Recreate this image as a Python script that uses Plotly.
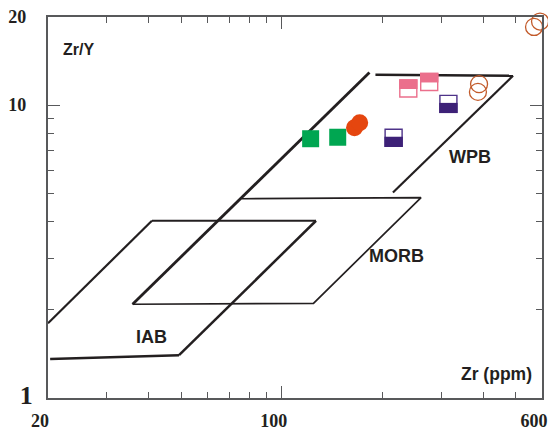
import numpy as np
import plotly.graph_objects as go

# ---- Data ----
green_x = [122, 147]
green_y = [7.68, 7.77]
orange_x = [165, 171]
orange_y = [8.37, 8.71]
purple_x = [216, 315]
purple_y = [7.74, 10.1]
pink_x = [239, 276]
pink_y = [11.4, 12.0]
open_x = [389, 386, 592, 568]
open_y = [11.8, 11.1, 19.3, 18.5]

# field boundaries
iab_x = [20, 40.9, 126.6, 49.3, 20.3]
iab_y = [1.80, 4.03, 4.03, 1.40, 1.36]
morb_x = [75.9, 260.9, 124.4, 35.8]
morb_y = [4.79, 4.83, 2.106, 2.09]
long_x = [35.8, 182.9]
long_y = [2.09, 12.93]
wpb_x = [190.6, 491.5, 215.0]
wpb_y = [12.70, 12.60, 5.03]

x_ticks = [20, 100, 600]
x_ticktext = ["20", "100", "600"]
x_minor = [30, 40, 50, 60, 70, 80, 90, 200, 300, 400, 500]
y_ticks = [1, 10, 20]
y_ticktext = ['<span style="font-size:26px">1</span>',
              '10<span style="font-size:26px">&nbsp;</span>',
              '20<span style="font-size:26px">&nbsp;</span>']
y_minor = [2, 3, 4, 5, 6, 7, 8, 9]

INK = "#231F20"
AX = "#58595B"
GREEN = "#00A651"
ORANGE = "#E5460F"
PURPLE = "#3D2177"
PURPLE_EDGE = "#4E3389"
PINK = "#EB6F8C"
BROWN = "#C25A2A"

fig = go.Figure()

def seg(xs, ys, w):
    fig.add_trace(go.Scatter(x=xs, y=ys, mode="lines",
                             line=dict(color=INK, width=w), showlegend=False,
                             hoverinfo="skip"))

seg(iab_x[:2], iab_y[:2], 2.2)
seg(iab_x[1:3], iab_y[1:3], 2.0)
seg(iab_x[2:4], iab_y[2:4], 2.5)
seg(iab_x[3:5], iab_y[3:5], 2.5)
seg(morb_x, morb_y, 1.7)
seg(long_x, long_y, 2.8)
seg(wpb_x[:2], wpb_y[:2], 2.6)
seg(wpb_x[1:], wpb_y[1:], 2.2)

fig.add_trace(go.Scatter(x=green_x, y=green_y, mode="markers",
                         marker=dict(symbol="square", size=17, color=GREEN,
                                     line=dict(width=0)), showlegend=False))
fig.add_trace(go.Scatter(x=orange_x, y=orange_y, mode="markers",
                         marker=dict(symbol="circle", size=17, color=ORANGE,
                                     line=dict(width=0)), showlegend=False))
fig.add_trace(go.Scatter(x=purple_x, y=purple_y, mode="markers",
                         marker=dict(symbol="square", size=17, color="white",
                                     line=dict(width=1.4, color=PURPLE_EDGE)), showlegend=False))
fig.add_trace(go.Scatter(x=pink_x, y=pink_y, mode="markers",
                         marker=dict(symbol="square", size=17, color="white",
                                     line=dict(width=1.4, color=PINK)), showlegend=False))
fig.add_trace(go.Scatter(x=open_x, y=open_y, mode="markers", cliponaxis=False,
                         marker=dict(symbol="circle-open", size=17, color=BROWN,
                                     line=dict(width=1.3, color=BROWN)), showlegend=False))

shapes = []
for xv, yv in zip(purple_x, purple_y):
    shapes.append(dict(type="path", xref="x", yref="y", xsizemode="pixel", ysizemode="pixel",
                       xanchor=xv, yanchor=yv,
                       path="M-9.2,-9.2 L9.2,-9.2 L9.2,1.0 L-9.2,1.0 Z",
                       fillcolor=PURPLE, line=dict(width=0)))
for xv, yv in zip(pink_x, pink_y):
    shapes.append(dict(type="path", xref="x", yref="y", xsizemode="pixel", ysizemode="pixel",
                       xanchor=xv, yanchor=yv,
                       path="M-9.2,-0.5 L9.2,-0.5 L9.2,9.2 L-9.2,9.2 Z",
                       fillcolor=PINK, line=dict(width=0)))

tickfont = dict(family="Liberation Serif", size=18, color=INK, weight="bold")
common = dict(type="log", showgrid=False, zeroline=False, showline=True,
              linecolor=AX, linewidth=1.5, mirror="allticks", ticks="inside",
              ticklen=12, tickwidth=1.3, tickcolor=AX, tickfont=tickfont,
              automargin=False, ticklabeloverflow="allow")

fig.update_layout(
    width=548, height=432,
    margin=dict(l=48, r=6, t=17, b=34, autoexpand=False),
    paper_bgcolor="white", plot_bgcolor="white",
    shapes=shapes,
    xaxis=dict(range=[np.log10(20), np.log10(600)], tickvals=x_ticks, ticktext=x_ticktext,
               minor=dict(tickvals=x_minor, ticks="inside", ticklen=6, tickwidth=1.3, tickcolor=AX),
               ticklabelstandoff=6, ticklabelshift=-8, **common),
    yaxis=dict(range=[0, np.log10(20)], tickvals=y_ticks, ticktext=y_ticktext,
               minor=dict(tickvals=y_minor, ticks="inside", ticklen=6, tickwidth=1.3, tickcolor=AX),
               ticklabelstandoff=10, **common),
)

def note(text, px, py, xanchor="center", size=18):
    fig.add_annotation(text=text, x=(px - 48) / 494, y=(398 - py) / 381,
                       xref="paper", yref="paper", showarrow=False,
                       xanchor=xanchor, yanchor="middle",
                       font=dict(family="Liberation Sans", size=size, color=INK, weight="bold"))

note("Zr/Y", 61, 50, "left", 16)
note("WPB", 470, 157)
note("MORB", 396, 256)
note("IAB", 151, 337)
note("Zr (ppm)", 534, 374, "right", 17.5)

fig.write_html("out.html")
